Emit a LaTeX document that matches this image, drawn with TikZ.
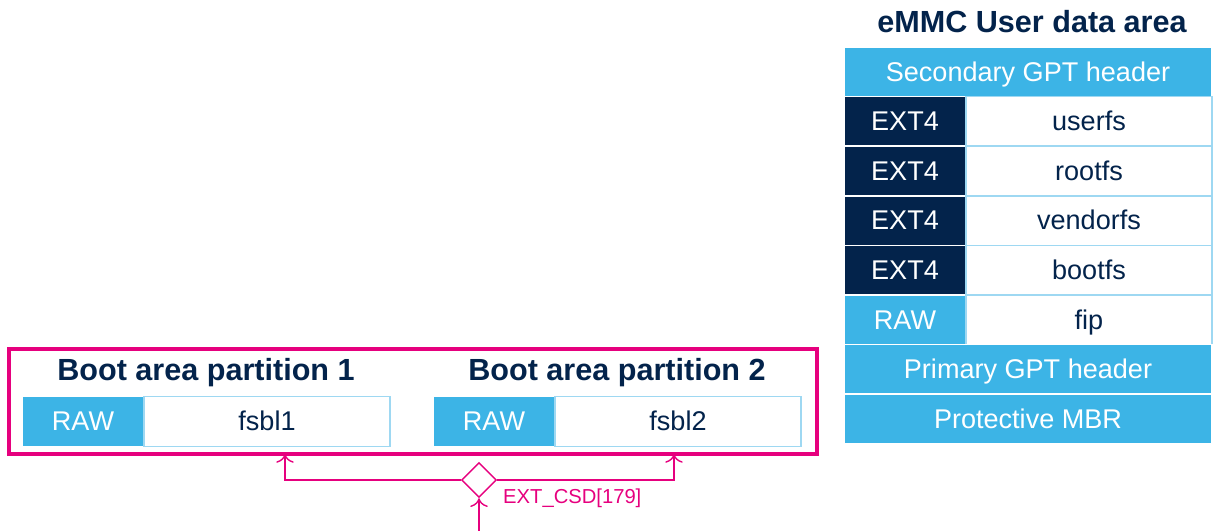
\documentclass[tikz,border=0pt]{standalone}
\usepackage{fontspec}
\setmainfont{Liberation Sans}
\usetikzlibrary{shapes.geometric,arrows.meta}
\definecolor{stnavy}{HTML}{03234B}
\definecolor{stblue}{HTML}{3CB4E6}
\definecolor{stpink}{HTML}{E6007E}
\definecolor{stline}{HTML}{9ED8F2}

\begin{document}
\begin{tikzpicture}[cell/.style={rectangle, line width=0.8pt, inner sep=0pt, minimum height=0.99cm, text height=13pt, text depth=2.3pt, font=\fontsize{15.4}{18}\selectfont},
  typecell/.style={cell, fill=stnavy, draw=white, text=white, minimum width=2.44cm},
  rawcell/.style={cell, fill=stblue, draw=white, text=white, minimum width=2.44cm},
  namecell/.style={cell, fill=white, draw=stline, text=stnavy, minimum width=4.92cm},
  widecell/.style={cell, fill=stblue, draw=white, text=white, minimum width=7.36cm},
  title/.style={text=stnavy, font=\fontsize{17.4}{21}\selectfont\bfseries},
  link/.style={stpink, line width=0.8pt, -{To[length=5pt,width=10pt]}}]

\useasboundingbox (0,0) rectangle (24.38,10.62);

% eMMC user data area
\node[title] (usertitle) at (20.64,10.18) {eMMC User data area};
\node[widecell] (gpt2) at (20.56,9.184) {Secondary GPT header};
\node[typecell] (ext1) at (18.10,8.192) {EXT4}; \node[namecell] (userfs) at (21.78,8.192) {userfs};
\node[typecell] (ext2) at (18.10,7.200) {EXT4}; \node[namecell] (rootfs) at (21.78,7.200) {rootfs};
\node[typecell] (ext3) at (18.10,6.208) {EXT4}; \node[namecell] (vendorfs) at (21.78,6.208) {vendorfs};
\node[typecell] (ext4) at (18.10,5.216) {EXT4}; \node[namecell] (bootfs) at (21.78,5.216) {bootfs};
\node[rawcell] (raw0) at (18.10,4.224) {RAW}; \node[namecell] (fip) at (21.78,4.224) {fip};
\node[widecell] (gpt1) at (20.56,3.232) {Primary GPT header};
\node[widecell] (mbr) at (20.56,2.240) {Protective MBR};

% boot area partitions
\node[draw=stpink, line width=2.2pt, minimum width=16.16cm, minimum height=2.1cm] (bootarea) at (8.26,2.59) {};
\node[title] (boot1title) at (4.12,3.16) {Boot area partition 1};
\node[rawcell] (raw1) at (1.66,2.19) {RAW}; \node[namecell] (fsbl1) at (5.34,2.19) {fsbl1};
\node[title] (boot2title) at (12.34,3.16) {Boot area partition 2};
\node[rawcell] (raw2) at (9.88,2.19) {RAW}; \node[namecell] (fsbl2) at (13.56,2.19) {fsbl2};

% boot partition selection
\node[diamond, draw=stpink, fill=white, line width=0.8pt, inner sep=0pt, minimum size=0.7cm] (csd) at (9.58,1.02) {};
\node[anchor=west, text=stpink, font=\fontsize{11.5}{14}\selectfont] (csdlabel) at (9.94,0.66) {EXT\_CSD[179]};
\coordinate (in1) at (5.70,1.54);
\coordinate (in2) at (13.48,1.54);
\coordinate (src) at (9.58,0);
\draw[link] (csd.west) -| (in1);
\draw[link] (csd.east) -| (in2);
\draw[link] (src) -- (csd.south);

\end{tikzpicture}
\end{document}
